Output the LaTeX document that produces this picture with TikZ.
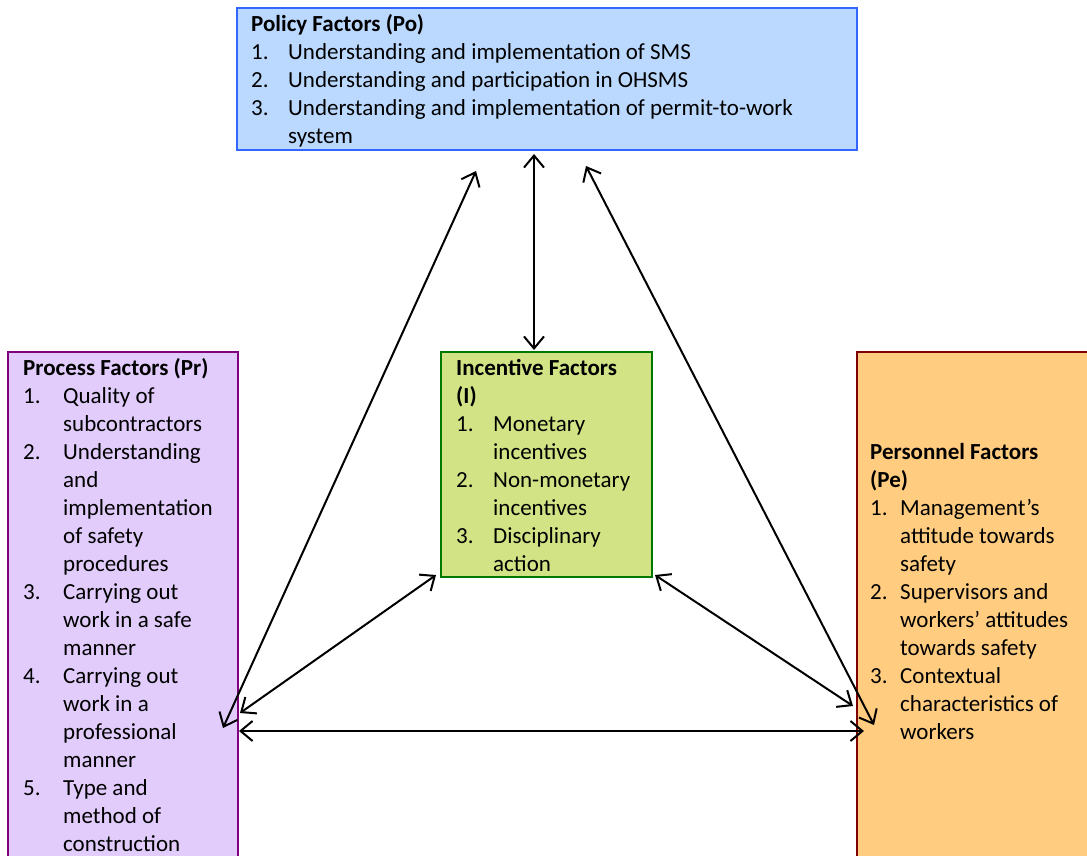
\documentclass[tikz,border=0pt]{standalone}
\usepackage{fontspec}
\setmainfont{Carlito}
\usepackage{tikz}
\usetikzlibrary{arrows.meta}
\usepackage{color}

\definecolor{PoFill}{RGB}{187,217,255}
\definecolor{PoLine}{RGB}{51,102,255}
\definecolor{PrFill}{RGB}{225,204,252}
\definecolor{PrLine}{RGB}{128,0,128}
\definecolor{InFill}{RGB}{209,227,132}
\definecolor{InLine}{RGB}{0,120,0}
\definecolor{PeFill}{RGB}{255,204,128}
\definecolor{PeLine}{RGB}{128,0,0}

\newcommand{\numbox}[2][37pt]{\makebox[#1][l]{#2}}

\begin{document}
\begin{tikzpicture}[x=1pt,y=-1pt]
  \tikzset{BoxStyle/.style = {
    shape         = rectangle,
    anchor        = north west,
    line width    = 1.5pt,
    inner sep     = 0pt,
    outer sep     = 0pt
    }
  }
  % base west of a multi-line node = baseline of its last line
  \tikzset{TextStyle/.style = {
    anchor        = base west,
    align         = left,
    inner sep     = 0pt,
    text          = black,
    font          = \fontsize{23}{28}\selectfont
    }
  }
  \tikzset{EdgeStyle/.style = {
    draw          = black,
    line width    = 2pt,
    >             = {Straight Barb[length=12pt,width=20pt]},
    <->
    }
  }

  \path[use as bounding box, clip] (0,0) rectangle (1087,855);

  \node[BoxStyle, draw=PoLine, fill=PoFill, minimum width=620pt, minimum height=142pt](Po) at (237,8) {};
  \node[BoxStyle, draw=PrLine, fill=PrFill, minimum width=230pt, minimum height=530pt](Pr) at (8,352) {};
  \node[BoxStyle, draw=InLine, fill=InFill, minimum width=211pt, minimum height=225pt](In) at (441,352) {};
  \node[BoxStyle, draw=PeLine, fill=PeFill, minimum width=250pt, minimum height=530pt](Pe) at (857,352) {};

  \node[TextStyle](PoText) at (251,143) {\textbf{Policy Factors (Po)}\\
    \numbox{1.}Understanding and implementation of SMS\\
    \numbox{2.}Understanding and participation in OHSMS\\
    \numbox{3.}Understanding and implementation of permit-to-work\\
    \numbox{}system};
  \node[TextStyle](PrText) at (23,851) {\textbf{Process Factors (Pr)}\\
    \numbox[40pt]{1.}Quality of\\
    \numbox[40pt]{}subcontractors\\
    \numbox[40pt]{2.}Understanding\\
    \numbox[40pt]{}and\\
    \numbox[40pt]{}implementation\\
    \numbox[40pt]{}of safety\\
    \numbox[40pt]{}procedures\\
    \numbox[40pt]{3.}Carrying out\\
    \numbox[40pt]{}work in a safe\\
    \numbox[40pt]{}manner\\
    \numbox[40pt]{4.}Carrying out\\
    \numbox[40pt]{}work in a\\
    \numbox[40pt]{}professional\\
    \numbox[40pt]{}manner\\
    \numbox[40pt]{5.}Type and\\
    \numbox[40pt]{}method of\\
    \numbox[40pt]{}construction};
  \node[TextStyle](InText) at (456,571) {\textbf{Incentive Factors}\\
    \textbf{(I)}\\
    \numbox{1.}Monetary\\
    \numbox{}incentives\\
    \numbox{2.}Non-monetary\\
    \numbox{}incentives\\
    \numbox{3.}Disciplinary\\
    \numbox{}action};
  \node[TextStyle](PeText) at (870,739) {\textbf{Personnel Factors}\\
    \textbf{(Pe)}\\
    \numbox[30pt]{1.}Management’s\\
    \numbox[30pt]{}attitude towards\\
    \numbox[30pt]{}safety\\
    \numbox[30pt]{2.}Supervisors and\\
    \numbox[30pt]{}workers’ attitudes\\
    \numbox[30pt]{}towards safety\\
    \numbox[30pt]{3.}Contextual\\
    \numbox[30pt]{}characteristics of\\
    \numbox[30pt]{}workers};

  \draw[EdgeStyle]([shift={(-71,21)}]Po.south) to ([shift={(-15,376)}]Pr.north east);
  \draw[EdgeStyle]([shift={(-13,4)}]Po.south) to ([shift={(-12.5,-2)}]In.north);
  \draw[EdgeStyle]([shift={(39,16)}]Po.south) to ([shift={(17,373)}]Pe.north west);
  \draw[EdgeStyle]([shift={(-5,-2)}]In.south west) to ([shift={(2,361)}]Pr.north east);
  \draw[EdgeStyle]([shift={(3,-2)}]In.south east) to ([shift={(-4,354)}]Pe.north west);
  \draw[EdgeStyle]([shift={(1,379)}]Pr.north east) to ([shift={(7,379)}]Pe.north west);

\end{tikzpicture}
\end{document}
